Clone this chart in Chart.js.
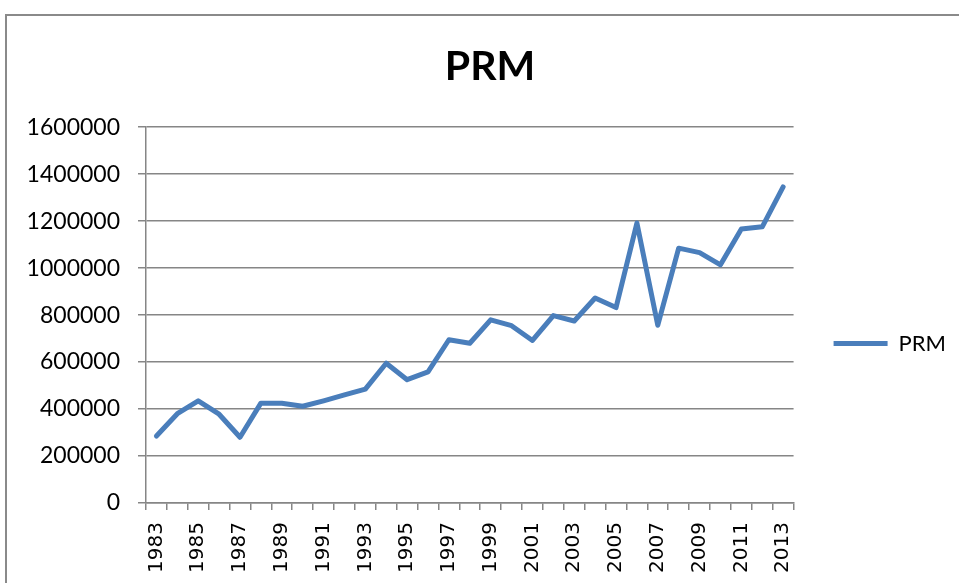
<!DOCTYPE html>
<html>
<head>
<meta charset="utf-8">
<script src="https://cdn.jsdelivr.net/npm/chart.js@4.4.1/dist/chart.umd.min.js"></script>
<style>
  html, body { margin: 0; padding: 0; background: #fff; overflow: hidden; }
  #frame { position: absolute; left: 5px; top: 14px; width: 2000px; height: 2000px; border: 2px solid #8a8a8a; box-sizing: border-box; }
  #myChart { position: absolute; left: 0; top: 0; }
</style>
</head>
<body>
<div id="frame"></div>
<canvas id="myChart" width="959" height="583"></canvas>
<script>
const years = ['1983','1984','1985','1986','1987','1988','1989','1990','1991','1992','1993',
  '1994','1995','1996','1997','1998','1999','2000','2001','2002','2003','2004','2005',
  '2006','2007','2008','2009','2010','2011','2012','2013'];
const prm = [285000, 380000, 435000, 378000, 280000, 425000, 425000, 412000, 435000, 460000, 485000,
  595000, 525000, 558000, 695000, 680000, 780000, 755000, 692000, 798000, 775000, 873000, 832000,
  1192000, 757000, 1085000, 1066000, 1014000, 1167000, 1176000, 1346000];
const yTicks = [0, 200000, 400000, 600000, 800000, 1000000, 1200000, 1400000, 1600000];

const gray = '#868686';
const blue = '#4a7ebb';

// moves the legend down to sit where Excel puts it
const legendShift = {
  id: 'legendShift',
  afterLayout(chart) {
    chart.legend.top += 49;
    chart.legend.bottom += 49;
  }
};

var ctx = document.getElementById("myChart").getContext("2d");
var myChart = new Chart(ctx, {
  type: 'line',
  data: {
    labels: years,
    datasets: [{
      label: 'PRM',
      data: prm,
      borderColor: blue,
      backgroundColor: blue,
      borderWidth: 5,
      borderCapStyle: 'round',
      borderJoinStyle: 'round',
      pointRadius: 0,
      tension: 0
    }]
  },
  options: {
    responsive: false,
    animation: false,
    layout: { padding: { left: 24, right: 3, top: 16, bottom: 10 } },
    plugins: {
      title: {
        display: true,
        text: 'PRM',
        color: '#000',
        font: { family: 'Lato', size: 41, weight: 'bold' },
        padding: { top: 26, bottom: 36 }
      },
      legend: {
        position: 'right',
        labels: {
          usePointStyle: true,
          pointStyle: 'line',
          pointStyleWidth: 54,
          color: '#000',
          font: { family: 'Lato', size: 22 },
          padding: 40
        }
      },
      tooltip: { enabled: false }
    },
    scales: {
      x: {
        offset: true,
        afterFit: (axis) => { axis.height = 70; },
        grid: { offset: true, drawOnChartArea: false, color: gray, lineWidth: 1.5, tickLength: 7 },
        border: { color: gray, width: 1.5 },
        ticks: {
          autoSkip: false,
          maxRotation: 90,
          minRotation: 90,
          padding: 12,
          color: '#000',
          font: { family: 'DejaVu Sans', size: 20 },
          callback: (val, i) => (i % 2 === 0 ? years[i] : '')
        }
      },
      y: {
        min: 0,
        max: 1600000,
        afterBuildTicks: (axis) => { axis.ticks = yTicks.map(v => ({ value: v })); },
        afterFit: (axis) => { axis.width = 122; },
        grid: { color: gray, lineWidth: 1.5, tickLength: 8 },
        border: { color: gray, width: 1.5 },
        ticks: {
          padding: 18,
          color: '#000',
          font: { family: 'Lato', size: 23 },
          callback: (v) => String(v)
        }
      }
    }
  },
  plugins: [legendShift]
});
</script>
</body>
</html>
